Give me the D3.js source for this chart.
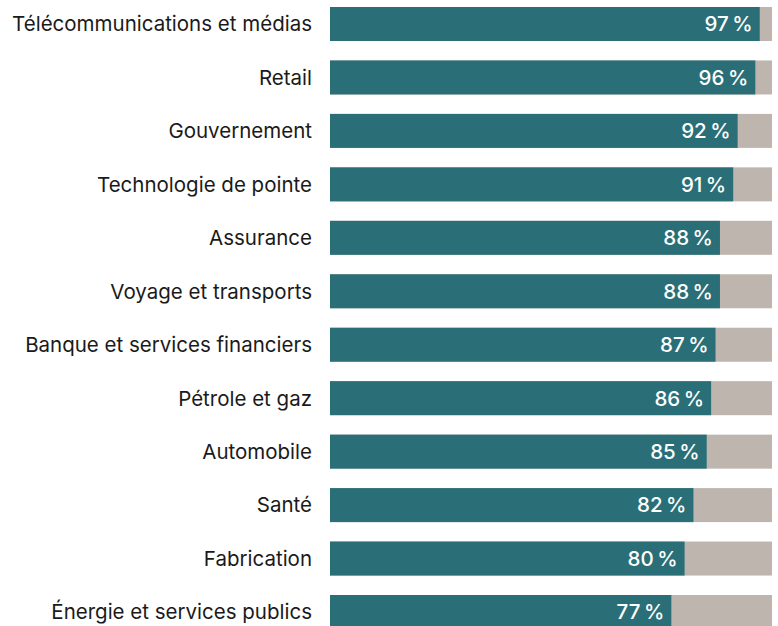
<!DOCTYPE html>
<html><head><meta charset="utf-8">
<script src="https://cdn.jsdelivr.net/npm/d3@7"></script>
<style>body{margin:0;background:#fff;}svg{display:block;}</style>
</head><body>
<svg id="chart" width="778" height="626"></svg>
<script>
const categories = ["Télécommunications et médias","Retail","Gouvernement","Technologie de pointe","Assurance","Voyage et transports","Banque et services financiers","Pétrole et gaz","Automobile","Santé","Fabrication","Énergie et services publics"];
const values = [97,96,92,91,88,88,87,86,85,82,80,77];
const total = 100;

const svg = d3.select("#chart");
const x = d3.scaleLinear().domain([0,total]).range([330,772]);
const y = d3.scaleBand().domain(categories).range([7,629]).paddingInner(0.364).paddingOuter(0);
const font = "Inter, 'Noto Sans', sans-serif";

const g = svg.selectAll("g.row").data(categories).join("g").attr("class","row");
g.append("rect").attr("x",x(0)).attr("y",d=>y(d)).attr("width",x(total)-x(0)).attr("height",y.bandwidth()).attr("fill","#bdb5ae");
g.append("rect").attr("x",x(0)).attr("y",d=>y(d)).attr("width",(d,i)=>x(values[i])-x(0)+1).attr("height",y.bandwidth()).attr("fill","#2a6f77");
g.append("text").attr("x",(d,i)=>x(values[i])-6).attr("y",d=>y(d)+y.bandwidth()/2).attr("dy","0.36em")
 .attr("text-anchor","end").attr("fill","#fff").style("font-family",font).style("font-size","20.5px").style("font-weight","500")
 .text((d,i)=>values[i]+"\u202F%");
g.append("text").attr("x",312).attr("y",d=>y(d)+y.bandwidth()/2).attr("dy","0.36em")
 .attr("text-anchor","end").attr("fill","#1a1a1a").style("font-family",font).style("font-size","20.5px")
 .text(d=>d);
</script>
</body></html>
